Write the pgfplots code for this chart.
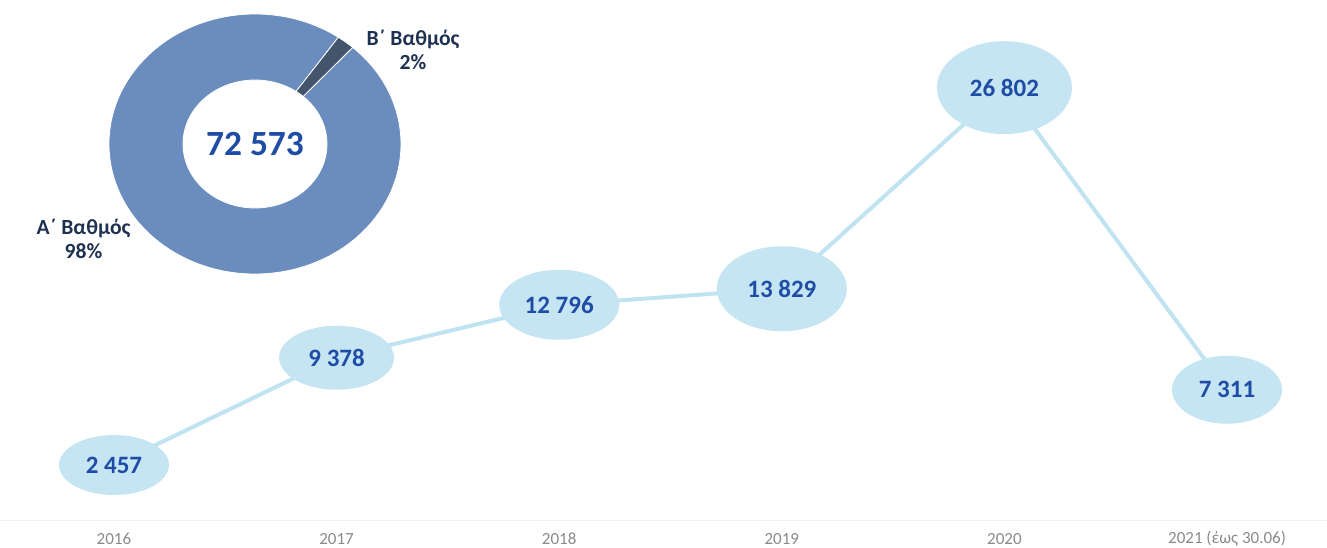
\documentclass[border=0pt]{standalone}
\usepackage{fontspec}
\setmainfont{Carlito}
\usepackage{pgfplots}
\usepackage{pgfplotstable}
\pgfplotsset{compat=1.18}
\usetikzlibrary{shapes.geometric}

\definecolor{ellfill}{HTML}{C5E5F2}
\definecolor{linecol}{HTML}{BFE3F0}
\definecolor{numblue}{HTML}{1F4DA6}
\definecolor{navy}{HTML}{1F3150}
\definecolor{sliceA}{HTML}{6A8DBE}
\definecolor{sliceB}{HTML}{44546A}
\definecolor{ticklab}{HTML}{8A8A8A}

% year index, value, ellipse width/height (pt), label
\pgfplotstableread[col sep=comma]{
x,y,w,h,lab
0,2457,55,30,2 457
1,9378,57.5,32,9 378
2,12796,60,35,12 796
3,13829,65,42.5,13 829
4,26802,67.5,46.5,26 802
5,7311,55,34,7 311
}\yearly

\begin{document}
\begin{tikzpicture}
\begin{axis}[
    at={(0,0)}, anchor=south west,
    scale only axis,
    width=663.5pt, height=260pt,
    xmin=-0.512, xmax=5.449,
    ymin=-1091, ymax=32457,
    axis x line=bottom,
    axis y line=none,
    x axis line style={draw=black!5, -},
    xtick={0,...,5},
    xticklabels={2016,2017,2018,2019,2020,2021 (έως 30.06)},
    major tick length=0pt,
    xticklabel style={text=ticklab, font=\fontsize{8.5}{9}\selectfont,
        anchor=center, inner sep=0pt, yshift=-9.5pt},
    clip=false,
]
\addplot[
    linecol, line width=2pt, mark=none,
    point meta=explicit symbolic,
    visualization depends on={\thisrow{w} \as \ew},
    visualization depends on={\thisrow{h} \as \eh},
    nodes near coords,
    every node near coord/.append style={
        ellipse, fill=ellfill, draw=none, anchor=center,
        inner sep=0pt,
        minimum width=\ew pt, minimum height=\eh pt,
        text=numblue, font=\bfseries\fontsize{12.5}{13}\selectfont},
] table[x=x, y=y, meta=lab] {\yearly};
\end{axis}

% donut: shares of the total
\def\va{98}
\def\vb{2}
\pgfmathsetmacro\astart{48}
\pgfmathsetmacro\bend{\astart+\vb*3.6}
\pgfmathsetmacro\aend{\bend+\va*3.6}
\begin{scope}[shift={(127.5pt,188pt)}]
\fill[sliceA, draw=white, line width=0.4pt] (\bend:73pt and 65pt)
    arc[start angle=\bend, end angle=\aend, x radius=73pt, y radius=65pt]
    -- (\aend:36pt and 32pt)
    arc[start angle=\aend, end angle=\bend, x radius=36pt, y radius=32pt] -- cycle;
\fill[sliceB, draw=white, line width=0.4pt] (\astart:73pt and 65pt)
    arc[start angle=\astart, end angle=\bend, x radius=73pt, y radius=65pt]
    -- (\bend:36pt and 32pt)
    arc[start angle=\bend, end angle=\astart, x radius=36pt, y radius=32pt] -- cycle;
\node[text=numblue, font=\bfseries\fontsize{17.7}{18}\selectfont] at (0,0) {72 573};
\end{scope}
\node[text=navy, font=\bfseries\fontsize{10.8}{12}\selectfont, align=center] at (206.5pt,235pt) {Β΄ Βαθμός\\2\%};
\node[text=navy, font=\bfseries\fontsize{10.8}{12}\selectfont, align=center] at (41.75pt,140.5pt) {Α΄ Βαθμός\\98\%};

\pgfresetboundingbox
\useasboundingbox (0,-13.5pt) rectangle (663.5pt,260pt);
\end{tikzpicture}
\end{document}
